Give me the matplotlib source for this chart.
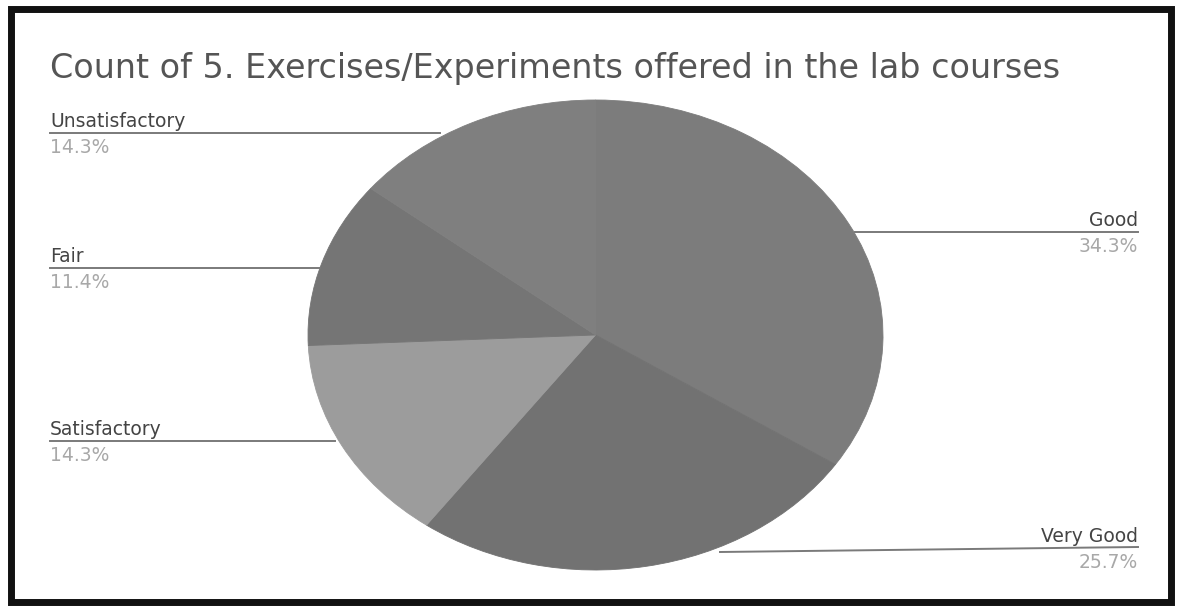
import matplotlib
matplotlib.use("Agg")
import matplotlib.pyplot as plt
from matplotlib.patches import Rectangle
from matplotlib.lines import Line2D

title = "Count of 5. Exercises/Experiments offered in the lab courses"
categories = ["Good", "Very Good", "Satisfactory", "Fair", "Unsatisfactory"]
counts = [12, 9, 5, 4, 5]
colors = ["#7c7c7c", "#727272", "#9c9c9c", "#757575", "#7f7f7f"]

W, H = 1179, 606
fig = plt.figure(figsize=(W / 100, H / 100), dpi=100)
fig.patch.set_facecolor("white")

def fx(x):
    return x / W

def fy(y):
    return 1 - y / H

# pie axes (elliptical, like the stretched screenshot)
px0, px1, py0, py1 = 308, 883, 100, 570
ax = fig.add_axes([fx(px0), fy(py1), (px1 - px0) / W, (py1 - py0) / H])
wedges, _ = ax.pie(counts, colors=colors, startangle=90, counterclock=False,
                   radius=1.0, wedgeprops=dict(linewidth=0.6))
for w, c in zip(wedges, colors):
    w.set_edgecolor(c)
ax.set_xlim(-1, 1)
ax.set_ylim(-1, 1)
ax.set_aspect("auto")
ax.axis("off")

total = sum(counts)
pcts = [f"{100 * c / total:.1f}%" for c in counts]

# label layout: (text x, label baseline y, line x start/end, line y start/end, align)
layout = {
    "Good": (1138, 226, (855, 1138), (232, 232), "right"),
    "Very Good": (1138, 542, (720, 1138), (552, 547), "right"),
    "Satisfactory": (50, 435, (50, 335), (441, 441), "left"),
    "Fair": (50, 262, (50, 320), (268, 268), "left"),
    "Unsatisfactory": (50, 127, (50, 440), (133, 133), "left"),
}

for cat, pct in zip(categories, pcts):
    tx, ty, lx, ly, ha = layout[cat]
    fig.add_artist(Line2D([fx(lx[0]), fx(lx[1])], [fy(ly[0]), fy(ly[1])],
                          transform=fig.transFigure, color="#7a7a7a", lw=1.4))
    fig.text(fx(tx), fy(ty), cat, ha=ha, va="baseline", fontsize=13.5,
             color="#444444", family="DejaVu Sans")
    fig.text(fx(tx), fy(ty + 26), pct, ha=ha, va="baseline", fontsize=13.5,
             color="#a8a8a8", family="DejaVu Sans")

fig.text(fx(50), fy(78), title, ha="left", va="baseline", fontsize=24,
         color="#555555", family="DejaVu Sans")

# outer black frame of the screenshot
fig.add_artist(Rectangle((fx(11), fy(602)), fx(1171) - fx(11), fy(9) - fy(602),
                         transform=fig.transFigure, fill=False,
                         edgecolor="#111111", lw=5))

fig.savefig("out.png", dpi=100, facecolor="white")
